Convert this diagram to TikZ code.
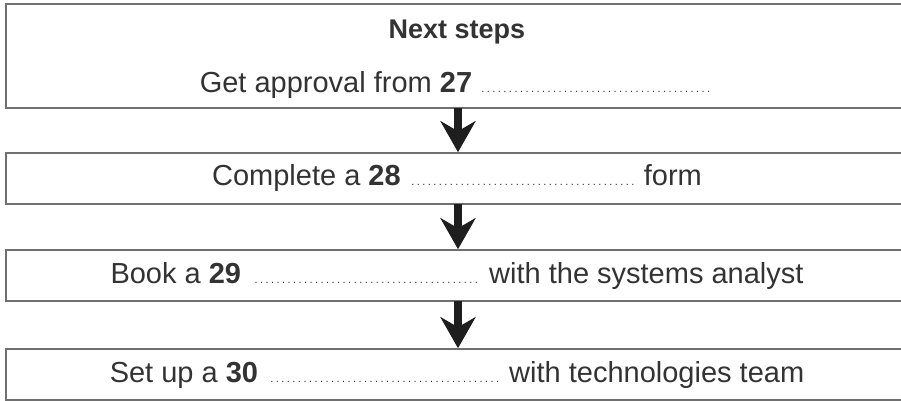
\documentclass[tikz,border=0pt]{standalone}
\usepackage{fontspec}
\setmainfont{Liberation Sans}
\usepackage{tikz}
\usetikzlibrary{positioning,arrows.meta}

\definecolor{boxline}{HTML}{707070}
\definecolor{inktext}{HTML}{333333}
\definecolor{inkarrow}{HTML}{1E1E1E}

% dotted answer line of a given width
\newcommand\answerdots[1]{\leaders\hbox to 5.5pt{\hss\fontsize{11}{11}\selectfont.\hss}\hskip#1\kern0pt\relax}

\begin{document}
\begin{tikzpicture}[
  x=1pt, y=-1pt,
  stepbox/.style={draw=boxline, line width=1.6pt, minimum width=902pt,
                  align=center, text=inktext, inner sep=0pt,
                  font=\fontsize{29}{54}\selectfont},
  downarr/.style={-{Stealth[length=31pt, width=35pt, inset=10pt]},
                  line width=7.5pt, draw=inkarrow, shorten <=-0.8pt}
]
\useasboundingbox (0,0) rectangle (901,401);

\node[stepbox, minimum height=104pt] (approval) at (457,56)
  {\rule{0pt}{26pt}{\fontsize{27}{54}\selectfont\bfseries Next steps}\\
   Get approval from \textbf{27} \answerdots{234pt}};
\node[stepbox, minimum height=51pt] (formbox) at (457,178.5)
  {Complete a \textbf{28} \answerdots{227pt} form};
\node[stepbox, minimum height=51pt] (booking) at (457,275.5)
  {Book a \textbf{29} \answerdots{232pt} with the systems analyst};
\node[stepbox, minimum height=51pt] (setup) at (457,374.5)
  {Set up a \textbf{30} \answerdots{235pt} with technologies team};

\draw[downarr] (approval.south -| 458,0) -- (formbox.north -| 458,0);
\draw[downarr] (formbox.south -| 458,0) -- (booking.north -| 458,0);
\draw[downarr] (booking.south -| 458,0) -- (setup.north -| 458,0);
\end{tikzpicture}
\end{document}
